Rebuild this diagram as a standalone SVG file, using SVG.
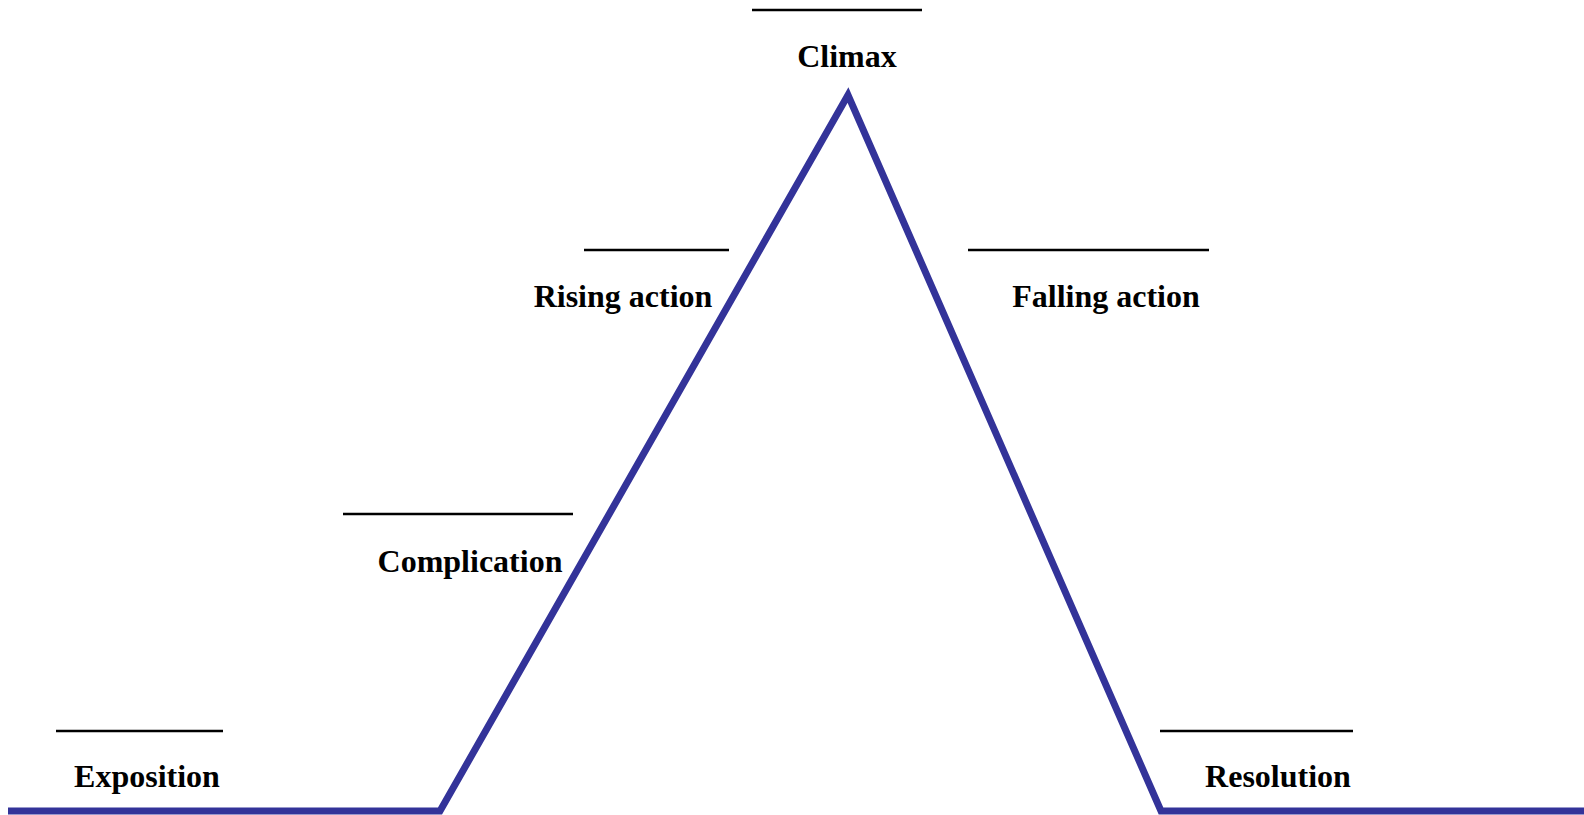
<svg xmlns="http://www.w3.org/2000/svg" width="1584" height="815" viewBox="0 0 1584 815">
<style>
.lbl{font-family:"Liberation Serif","Times New Roman",serif;font-weight:bold;font-size:32px;fill:#000;text-anchor:middle}
.blank{stroke:#000;stroke-width:2.5}
.arc{fill:none;stroke:#333399;stroke-width:7;stroke-linejoin:miter;stroke-miterlimit:10}
</style>
<rect width="1584" height="815" fill="#fff"/>
<g id="connectors">
<polyline class="arc" points="8,811 440,811 848,95 1161,811 1584,811"/>
</g>
<g id="climax"><line class="blank" x1="752" y1="10" x2="922" y2="10"/><text class="lbl" x="847" y="67">Climax</text></g>
<g id="rising-action"><line class="blank" x1="584" y1="250" x2="729" y2="250"/><text class="lbl" x="623" y="307">Rising action</text></g>
<g id="falling-action"><line class="blank" x1="968" y1="250" x2="1209" y2="250"/><text class="lbl" x="1106" y="307">Falling action</text></g>
<g id="complication"><line class="blank" x1="343" y1="514" x2="573" y2="514"/><text class="lbl" x="470" y="572">Complication</text></g>
<g id="exposition"><line class="blank" x1="56" y1="731" x2="223" y2="731"/><text class="lbl" x="147" y="787">Exposition</text></g>
<g id="resolution"><line class="blank" x1="1160" y1="731" x2="1353" y2="731"/><text class="lbl" x="1278" y="787">Resolution</text></g>
</svg>
